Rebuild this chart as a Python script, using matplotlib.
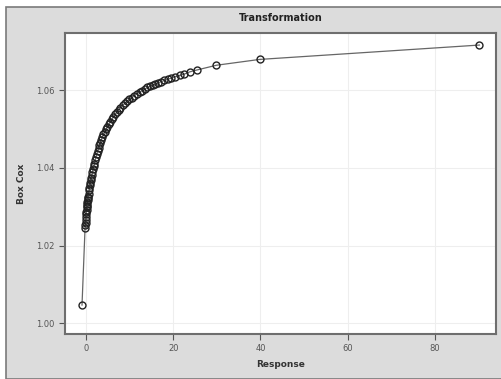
import matplotlib
matplotlib.use("Agg")
import matplotlib.pyplot as plt
from matplotlib.patches import Rectangle

# response vs box-cox value
resp = [-0.9, -0.2, -0.15, -0.1, -0.05, 0.0, 0.05, 0.1, 0.15, 0.2, 0.25, 0.3,
        0.35, 0.4, 0.45, 0.5, 0.6, 0.7, 0.8, 0.9, 1.0, 1.1, 1.2, 1.35, 1.5,
        1.65, 1.8, 1.95, 2.1, 2.3, 2.5, 2.7, 2.9, 3.1, 3.3, 3.5, 3.75, 4.0,
        4.3, 4.6, 4.9, 5.2, 5.5, 5.9, 6.3, 6.7, 7.1, 7.5, 7.9, 8.4, 8.9, 9.4,
        9.9, 10.5, 11.1, 11.7, 12.3, 12.9, 13.5, 14.1, 14.7, 15.3, 15.9, 16.6,
        17.3, 18.0, 18.8, 19.6, 20.5, 21.5, 22.5, 23.8, 25.5, 29.9, 39.8, 90.2]
boxcox = [1.0047, 1.0246, 1.0252, 1.0259, 1.0266, 1.0273, 1.0280, 1.0286,
          1.0292, 1.0298, 1.0303, 1.0308, 1.0313, 1.0318, 1.0322, 1.0326,
          1.0334, 1.0342, 1.0349, 1.0356, 1.0362, 1.0368, 1.0374, 1.0382,
          1.0390, 1.0397, 1.0404, 1.0411, 1.0419, 1.0428, 1.0436, 1.0444,
          1.0451, 1.0458, 1.0465, 1.0471, 1.0479, 1.0486, 1.0493, 1.0500,
          1.0506, 1.0512, 1.0518, 1.0525, 1.0532, 1.0538, 1.0544, 1.0550,
          1.0555, 1.0561, 1.0566, 1.0571, 1.0576, 1.0581, 1.0586, 1.0591,
          1.0595, 1.0599, 1.0603, 1.0607, 1.0610, 1.0613, 1.0616, 1.0619,
          1.0622, 1.0625, 1.0628, 1.0631, 1.0635, 1.0638, 1.0641, 1.0647,
          1.0652, 1.0664, 1.0679, 1.0716]

xticks = [0, 20, 40, 60, 80]
yticks = [1.00, 1.02, 1.04, 1.06]

bg = '#dcdcdc'
fig = plt.figure(figsize=(5.02, 3.79), dpi=100, facecolor='white')
# gray panel with a dark edge on top / left
fig.patches.append(Rectangle((6/502, 0), 1, 1 - 7/379, transform=fig.transFigure,
                             facecolor=bg, edgecolor='#7a7a7a', linewidth=1.2, zorder=-10))

ax = fig.add_axes([65/502, 1 - 334/379, (496 - 65)/502, (334 - 33)/379])
ax.set_facecolor('white')
ax.plot(resp, boxcox, color='#666666', linewidth=0.9, marker='o', markersize=5,
        markerfacecolor='none', markeredgecolor='#222222', markeredgewidth=1.0)

ax.set_xlim(-4.8, 94.0)
ax.set_ylim(0.99725, 1.0747)
ax.set_xticks(xticks)
ax.set_xticklabels([str(t) for t in xticks])
ax.set_yticks(yticks)
ax.set_yticklabels(['%.2f' % t for t in yticks])
ax.grid(True, color='#eeeeee', linewidth=0.8)
ax.set_axisbelow(True)
ax.tick_params(labelsize=6, colors='#555555', length=4, width=0.8)
for s in ax.spines.values():
    s.set_color('#6e6e6e')
    s.set_linewidth(1.5)

ax.set_xlabel('Response', fontsize=6.5, fontweight='bold', color='#333333', labelpad=5)
ax.set_ylabel('Box Cox', fontsize=6.5, fontweight='bold', color='#333333', labelpad=7)
fig.text(281/502, 1 - 18/379, 'Transformation', ha='center', va='center',
         fontsize=7, fontweight='bold', color='#222222')

fig.savefig('out.png', dpi=100, facecolor=fig.get_facecolor())
